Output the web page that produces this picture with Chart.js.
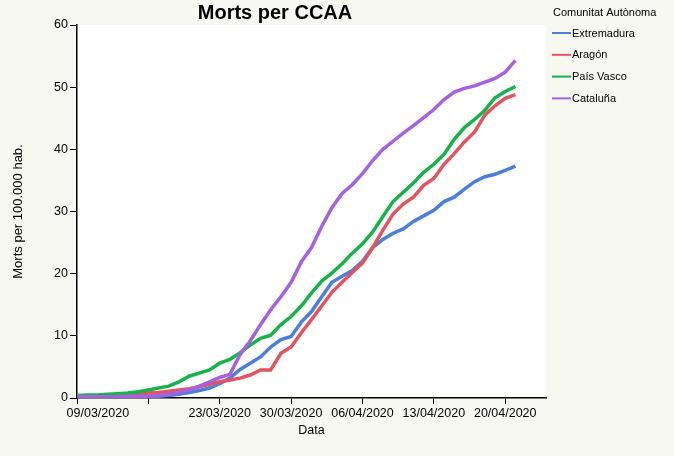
<!DOCTYPE html>
<html>
<head>
<meta charset="utf-8">
<script src="https://cdn.jsdelivr.net/npm/chart.js@4/dist/chart.umd.min.js"></script>
<style>
  body { margin: 0; background: #f8f8f3; }
  canvas { display: block; }
</style>
</head>
<body>
<canvas id="mortsCCAA" width="674" height="456"></canvas>
<script>
// dates (x axis), one per day
var dates = ['09/03/2020','10/03/2020','11/03/2020','12/03/2020','13/03/2020','14/03/2020','15/03/2020',
  '16/03/2020','17/03/2020','18/03/2020','19/03/2020','20/03/2020','21/03/2020','22/03/2020',
  '23/03/2020','24/03/2020','25/03/2020','26/03/2020','27/03/2020','28/03/2020','29/03/2020',
  '30/03/2020','31/03/2020','01/04/2020','02/04/2020','03/04/2020','04/04/2020','05/04/2020',
  '06/04/2020','07/04/2020','08/04/2020','09/04/2020','10/04/2020','11/04/2020','12/04/2020',
  '13/04/2020','14/04/2020','15/04/2020','16/04/2020','17/04/2020','18/04/2020','19/04/2020',
  '20/04/2020','21/04/2020'];

var comunitats = ['Extremadura', 'Aragón', 'País Vasco', 'Cataluña'];
var colors = ['#4c7fdc', '#e2545f', '#18b24b', '#a561e0'];

var extremadura = [0.1,0.1,0.1,0.1,0.1,0.2,0.2,0.2,0.3,0.4,
  0.6,0.9,1.2,1.6,2.3,3.2,4.6,5.6,6.6,8.2,
  9.4,9.9,12.2,13.9,16.3,18.6,19.6,20.5,22.0,24.2,
  25.5,26.5,27.2,28.4,29.3,30.2,31.6,32.3,33.6,34.8,
  35.6,36.0,36.6,37.3];
var aragon = [0.2,0.2,0.3,0.3,0.4,0.5,0.6,0.8,0.9,1.1,
  1.3,1.5,1.8,2.2,2.6,2.9,3.2,3.7,4.5,4.5,
  7.2,8.2,10.5,12.6,14.8,17.0,18.6,20.2,21.7,24.2,
  27.0,29.6,31.2,32.3,34.2,35.3,37.6,39.3,41.2,42.8,
  45.5,47.0,48.2,48.8];
var paisVasco = [0.4,0.5,0.5,0.6,0.7,0.8,1.0,1.3,1.6,1.9,
  2.6,3.5,4.0,4.5,5.6,6.2,7.3,8.5,9.6,10.1,
  11.8,13.1,14.8,16.9,18.8,20.1,21.6,23.3,24.8,26.7,
  29.2,31.6,33.1,34.6,36.3,37.6,39.2,41.6,43.5,44.8,
  46.3,48.3,49.3,50.1];
var cataluna = [0.2,0.2,0.2,0.2,0.2,0.3,0.3,0.3,0.4,0.6,
  0.9,1.3,1.9,2.6,3.3,3.8,7.0,9.2,11.8,14.2,
  16.3,18.6,21.9,24.2,27.6,30.6,32.9,34.3,36.1,38.2,
  40.0,41.3,42.6,43.8,45.1,46.4,48.0,49.2,49.8,50.2,
  50.8,51.4,52.4,54.3];

var xTicks = [0, 7, 14, 21, 28, 35, 42];   // dies (setmanals) des del 09/03
var yTicks = [0, 10, 20, 30, 40, 50, 60];

var series = [extremadura, aragon, paisVasco, cataluna];
var FONT = '"Liberation Sans", Arial, Helvetica, sans-serif';

// fons, títol i llegenda
var decor = {
  id: 'decor',
  beforeDraw: function(chart) {
    var ctx = chart.ctx, a = chart.chartArea;
    ctx.save();
    ctx.fillStyle = '#f8f8f3';
    ctx.fillRect(0, 0, chart.width, chart.height);
    ctx.fillStyle = '#ffffff';
    ctx.fillRect(a.left, a.top, a.right - a.left, a.bottom - a.top);
    ctx.restore();
  },
  afterDraw: function(chart) {
    var ctx = chart.ctx;
    ctx.save();
    ctx.fillStyle = '#000';
    ctx.textBaseline = 'middle';
    ctx.textAlign = 'center';
    ctx.font = 'bold 20px ' + FONT;
    ctx.fillText('Morts per CCAA', 275, 13);

    ctx.textAlign = 'left';
    ctx.font = '11px ' + FONT;
    ctx.fillText('Comunitat Autònoma', 553, 13);
    chart.data.datasets.forEach(function(ds, i) {
      var y = 33 + i * 21.8;
      ctx.strokeStyle = ds.borderColor;
      ctx.lineWidth = 2;
      ctx.beginPath();
      ctx.moveTo(552, y);
      ctx.lineTo(571, y);
      ctx.stroke();
      ctx.fillStyle = '#000';
      ctx.fillText(ds.label, 572, y + 0.5);
    });
    ctx.restore();
  }
};

document.addEventListener('DOMContentLoaded', function() {
  var ctx = document.getElementById('mortsCCAA').getContext('2d');

  var datasets = comunitats.map(function(nom, i) {
    return {
      label: nom,
      data: series[i].map(function(v, d) { return { x: d, y: v }; }),
      borderColor: colors[i],
      borderWidth: 3.5,
      pointRadius: 0,
      tension: 0,
      fill: false,
      order: 4 - i
    };
  });

  new Chart(ctx, {
    type: 'line',
    data: { datasets: datasets },
    plugins: [decor],
    options: {
      responsive: false,
      animation: false,
      layout: { padding: { top: 25, right: 128, left: 0, bottom: 0 } },
      plugins: {
        legend: { display: false },
        title: { display: false },
        tooltip: { enabled: false }
      },
      scales: {
        x: {
          type: 'linear',
          min: 0,
          max: 46,
          afterFit: function(s) { s.height = 58; },
          afterBuildTicks: function(s) { s.ticks = xTicks.map(function(v) { return { value: v }; }); },
          border: { display: true, color: '#000', width: 1.5 },
          grid: { display: true, drawOnChartArea: false, drawTicks: true, tickLength: 6, color: '#000' },
          ticks: {
            autoSkip: false,
            maxRotation: 0,
            padding: 2,
            color: '#000',
            font: { family: FONT, size: 12.5 },
            callback: function(value) {
              if (value === 7) return '';        // etiqueta amagada a l'original
              if (value === 0) return '            ' + dates[0];
              return dates[value] || '';
            }
          },
          title: {
            display: true,
            text: 'Data',
            color: '#000',
            font: { family: FONT, size: 12.5 },
            padding: { top: 18, bottom: 18 }
          }
        },
        y: {
          min: 0,
          max: 60,
          afterFit: function(s) { s.width = 77; },
          afterBuildTicks: function(s) { s.ticks = yTicks.map(function(v) { return { value: v }; }); },
          border: { display: true, color: '#000', width: 1.5 },
          grid: { display: true, drawOnChartArea: false, drawTicks: true, tickLength: 7, color: '#000' },
          ticks: {
            padding: 2,
            color: '#000',
            font: { family: FONT, size: 12.5 }
          },
          title: {
            display: true,
            text: 'Morts per 100.000 hab.',
            color: '#000',
            font: { family: FONT, size: 13 },
            padding: { top: 11, bottom: 11 }
          }
        }
      }
    }
  });
});
</script>
</body>
</html>
